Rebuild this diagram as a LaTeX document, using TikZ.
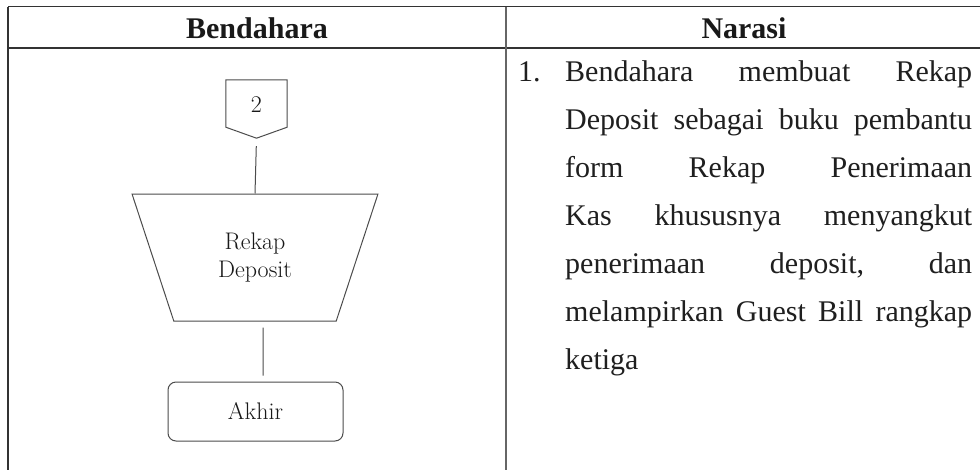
\documentclass[tikz,border=0pt]{standalone}
\usepackage{fontspec}
\usetikzlibrary{shapes.geometric}
\newfontfamily\narfont{Liberation Serif}
\begin{document}
\begin{tikzpicture}[x=1pt,y=-1pt,
  tline/.style={line width=1.5pt, draw=black!80},
  divline/.style={line width=2pt, draw=black!60},
  flow/.style={draw=black!70, line width=1pt},
  lbl/.style={font=\fontsize{24}{28}\selectfont, text=black!90},
  nar/.style={font=\narfont\fontsize{30}{36}\selectfont, text=black!88, anchor=base west, inner sep=0pt},
  hd/.style={font=\narfont\bfseries\fontsize{30}{36}\selectfont, text=black!90, anchor=base, inner sep=0pt}]
\useasboundingbox[fill=white] (0,0) rectangle (980,469);
% table
\draw[tline] (8,6.5) -- (985,6.5);
\draw[tline] (8,48) -- (985,48);
\draw[tline] (8,6.5) -- (8,472);
\draw[divline] (506,6.5) -- (506,472);
% headers
\node[hd] (hb) at (257,38) {Bendahara};
\node[hd] (hn) at (744,38) {Narasi};
% flow
\node[minimum width=61pt, minimum height=58pt, inner sep=0pt] (conn) at (256.5,109) {};
\draw[flow] (conn.north west) -- (conn.north east) -- ([yshift=11pt]conn.south east) -- (conn.south) -- ([yshift=11pt]conn.south west) -- cycle;
\node[lbl] (two) at (256.5,105) {2};
\node[trapezium, shape border rotate=180, trapezium left angle=69, trapezium right angle=69,
  trapezium stretches=true, minimum width=246pt, minimum height=127pt, inner sep=0pt,
  flow, lbl, align=center] (rekap) at (255,257.5) {Rekap\\Deposit};
\node[flow, lbl, rounded corners=8pt, minimum width=175pt, minimum height=59pt, inner sep=0pt] (akhir) at (255.5,411.5) {Akhir};
\draw[flow, shorten <=8pt] (conn.south) -- (rekap.north);
\draw[flow, shorten <=6pt, shorten >=6pt] ([xshift=8pt]rekap.south) -- ([xshift=7.5pt]akhir.north);
% narrative
\node[nar] (n0) at (518,81) {1.};
\node[nar] (l1) at (565,81) {\hbox to 407pt{Bendahara\hfill membuat\hfill Rekap}};
\node[nar] (l2) at (565,129) {\hbox to 407pt{Deposit\hfill sebagai\hfill buku\hfill pembantu}};
\node[nar] (l3) at (565,177) {\hbox to 407pt{form\hfill Rekap\hfill Penerimaan}};
\node[nar] (l4) at (565,225) {\hbox to 407pt{Kas\hfill khususnya\hfill menyangkut}};
\node[nar] (l5) at (565,273) {\hbox to 407pt{penerimaan\hfill deposit,\hfill dan}};
\node[nar] (l6) at (565,321) {\hbox to 407pt{melampirkan\hfill Guest\hfill Bill\hfill rangkap}};
\node[nar] (l7) at (565,369) {ketiga};
\end{tikzpicture}
\end{document}
